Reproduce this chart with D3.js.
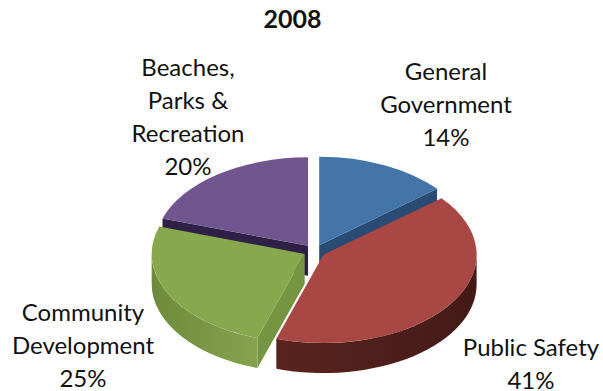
<!DOCTYPE html>
<html>
<head>
<meta charset="utf-8">
<script src="https://cdn.jsdelivr.net/npm/d3@7"></script>
<style>
  html, body { margin: 0; background: #fff; }
  text { font-family: Lato, "Open Sans", sans-serif; fill: #111; }
</style>
</head>
<body>
<svg id="chart" width="603" height="391"></svg>
<script>
const title = "2008";
const categories = ["General Government", "Public Safety", "Community Development", "Beaches, Parks & Recreation"];
const shares = [14, 41, 25, 20];
const labelLines = [
  ["General", "Government", "14%"],
  ["Public Safety", "41%"],
  ["Community", "Development", "25%"],
  ["Beaches,", "Parks &", "Recreation", "20%"]
];
const labelAnchors = [[446, 80], [531, 356], [83, 321], [188, 76]];
const topColors = ["#4375a9", "#a84743", "#87a84d", "#71558f"];
const wallColors = ["#2a4b73", "#5a2420", "#6e8b3d", "#2f2048"];
const wallShade = ["#2a4b73", "#431a17", "#86a34f", "#2f2048"];
const paintOrder = [3, 0, 2, 1];

const cx = 314.5, cy = 251;
const rx = 153, ry = 88.5;
const depth = 30, explode = 11;

const svg = d3.select("#chart");
const defs = svg.append("defs");

// d3.pie works clockwise from 12 o'clock; slices stay in data order.
const pie = d3.pie().sort(null).value(d => d)(shares);
const faceArc = d3.arc().innerRadius(0).outerRadius(1);
const unitDepth = depth / ry;

// Outer rim between two angles, in the unit circle of a slice.
function rimPath(a0, a1) {
  const p = d3.path();
  const s = a0 - Math.PI / 2, e = a1 - Math.PI / 2;
  p.arc(0, 0, 1, s, e);
  p.lineTo(Math.cos(e), Math.sin(e) + unitDepth);
  p.arc(0, unitDepth, 1, e, s, true);
  p.closePath();
  return p.toString();
}

// Flat wall running from the slice's apex to its rim at one angle.
function cutPath(a) {
  const x = Math.sin(a), y = -Math.cos(a);
  const p = d3.path();
  p.moveTo(0, 0);
  p.lineTo(x, y);
  p.lineTo(x, y + unitDepth);
  p.lineTo(0, unitDepth);
  p.closePath();
  return p.toString();
}

paintOrder.forEach(i => {
  const d = pie[i];
  const mid = (d.startAngle + d.endAngle) / 2;
  const ox = cx + explode * Math.sin(mid);
  const oy = cy - explode * (ry / rx) * Math.cos(mid);
  const g = svg.append("g")
    .attr("transform", `translate(${ox},${oy}) scale(${rx},${ry})`);

  const gradId = "rim" + i;
  const grad = defs.append("linearGradient")
    .attr("id", gradId).attr("x1", 0).attr("x2", 1).attr("y1", 0).attr("y2", 0);
  grad.append("stop").attr("offset", 0).attr("stop-color", wallColors[i]);
  grad.append("stop").attr("offset", 1).attr("stop-color", wallShade[i]);

  // Only the cut faces turned towards the viewer are drawn.
  if (d.endAngle < Math.PI) {
    g.append("path").attr("d", cutPath(d.endAngle)).attr("fill", wallColors[i]);
  }
  if (d.startAngle > Math.PI) {
    const shade = d3.color(wallColors[i]);
    g.append("path").attr("d", cutPath(d.startAngle))
      .attr("fill", i === 2 ? shade.brighter(0.2) : shade);
  }
  const a0 = Math.max(d.startAngle, Math.PI / 2);
  const a1 = Math.min(d.endAngle, 1.5 * Math.PI);
  if (a1 > a0) {
    g.append("path").attr("d", rimPath(a0, a1)).attr("fill", `url(#${gradId})`);
  }
  g.append("path").attr("d", faceArc(d)).attr("fill", topColors[i]);
});

// Title and data labels.
svg.append("text")
  .attr("x", 292.5).attr("y", 28)
  .attr("text-anchor", "middle")
  .attr("font-size", 25).attr("font-weight", 700)
  .text(title);

const lineStep = 33;
labelLines.forEach((lines, i) => {
  const t = svg.append("text")
    .attr("aria-label", categories[i])
    .attr("text-anchor", "middle")
    .attr("font-size", 24);
  lines.forEach((line, k) => {
    t.append("tspan")
      .attr("x", labelAnchors[i][0])
      .attr("y", labelAnchors[i][1] + k * lineStep)
      .text(line);
  });
});
</script>
</body>
</html>
